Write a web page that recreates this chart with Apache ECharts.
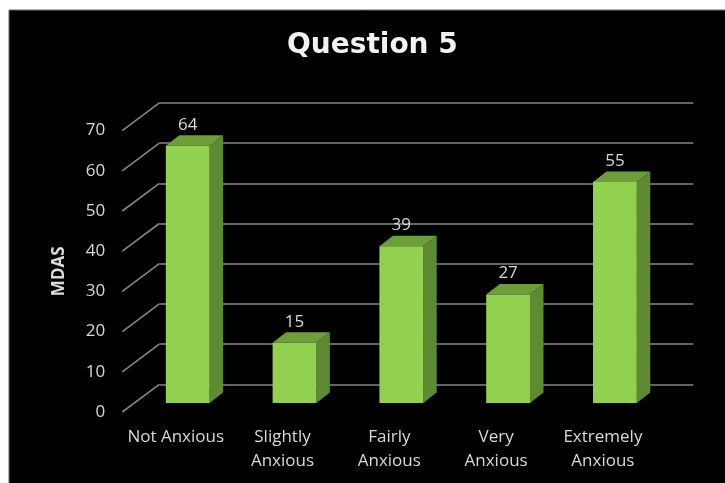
<!DOCTYPE html>
<html>
<head>
<meta charset="utf-8">
<script src="https://cdn.jsdelivr.net/npm/echarts@6/dist/echarts.min.js"></script>
<style>
  html, body { margin: 0; padding: 0; background: #ffffff; }
  #chart { width: 725px; height: 483px; }
</style>
</head>
<body>
<div id="chart"></div>
<script>
const categories = ['Not Anxious', 'Slightly\nAnxious', 'Fairly\nAnxious', 'Very\nAnxious', 'Extremely\nAnxious'];
const values = [64, 15, 39, 27, 55];
const yTicks = [0, 10, 20, 30, 40, 50, 60, 70];
const titleText = 'Question 5';
const yName = 'MDAS';

const FONT = '"Open Sans", "Liberation Sans", sans-serif';
const LABEL_COLOR = '#d9d9d9';
const GRID_COLOR = '#868686';

// three parallel planes: front (labels), bar face, back wall
const planeW = 534, planeH = 281.4;
const front = { left: 122.3, top: 130.6 };
const mid = { left: 134.3, top: 121.6 };
const back = { left: 159.3, top: 102.9 };
const wallDX = back.left - front.left, wallDY = back.top - front.top;
const barDX = 13.5, barDY = -10.5;

const chart = echarts.init(document.getElementById('chart'), null, { renderer: 'canvas' });

const hiddenCat = (gi) => ({
  gridIndex: gi, type: 'category', data: categories, show: false
});
const hiddenVal = (gi, split) => ({
  gridIndex: gi, type: 'value', min: 0, max: 70, interval: 10,
  axisLabel: { show: false }, axisLine: { show: false }, axisTick: { show: false },
  splitLine: { show: split, lineStyle: { color: GRID_COLOR, width: 1.6 } }
});

chart.setOption({
  backgroundColor: '#ffffff',
  animation: false,
  graphic: [{
    type: 'rect', z: -10, silent: true,
    shape: { x: 9, y: 10, width: 725, height: 483 },
    style: { fill: '#000000', stroke: '#6a6a6a', lineWidth: 1 }
  }],
  title: {
    text: titleText,
    left: 282, top: 27,
    textStyle: { color: '#f2f2f2', fontSize: 28, fontWeight: 'bold', fontFamily: '"DejaVu Sans", sans-serif' }
  },
  grid: [
    { left: front.left, top: front.top, width: planeW, height: planeH },
    { left: mid.left, top: mid.top, width: planeW, height: planeH },
    { left: back.left, top: back.top, width: planeW, height: planeH }
  ],
  xAxis: [
    {
      gridIndex: 0, type: 'category', data: categories,
      axisLine: { show: false }, axisTick: { show: false },
      axisLabel: { color: LABEL_COLOR, fontSize: 17, lineHeight: 24, margin: 13, fontFamily: FONT, interval: 0 }
    },
    hiddenCat(1),
    hiddenCat(2)
  ],
  yAxis: [
    {
      gridIndex: 0, type: 'value', min: 0, max: 70, interval: 10,
      axisLine: { show: false }, axisTick: { show: false }, splitLine: { show: false },
      axisLabel: { color: LABEL_COLOR, fontSize: 17, margin: 17, fontFamily: FONT },
      name: yName, nameLocation: 'middle', nameGap: 55, nameRotate: 90,
      nameTextStyle: { color: LABEL_COLOR, fontSize: 17, fontWeight: 'bold', fontFamily: FONT }
    },
    hiddenVal(1, false),
    hiddenVal(2, true)
  ],
  series: [
    {
      // side-wall diagonals joining front tick positions to back wall gridlines
      type: 'custom', xAxisIndex: 0, yAxisIndex: 0, z: 1, silent: true, clip: false,
      data: yTicks.map(v => [0, v]),
      renderItem: function (params, api) {
        const p = api.coord([0, api.value(1)]);
        const x0 = p[0] - api.size([1, 0])[0] / 2;
        return {
          type: 'line',
          shape: { x1: x0, y1: p[1], x2: x0 + wallDX, y2: p[1] + wallDY },
          style: { stroke: GRID_COLOR, lineWidth: 1.6 }
        };
      }
    },
    {
      type: 'custom', xAxisIndex: 1, yAxisIndex: 1, z: 5, silent: true, clip: false,
      data: values.map((v, i) => [i, v]),
      renderItem: function (params, api) {
        const i = api.value(0), v = api.value(1);
        const base = api.coord([i, 0]);
        const topP = api.coord([i, v]);
        const w = api.size([1, 0])[0] * 0.41;
        const xl = base[0] - w / 2, xr = base[0] + w / 2;
        const yb = base[1], yt = topP[1];
        return {
          type: 'group',
          children: [
            {
              type: 'polygon',
              shape: { points: [[xr, yt], [xr + barDX, yt + barDY], [xr + barDX, yb + barDY], [xr, yb]] },
              style: { fill: '#5e8a32' }
            },
            {
              type: 'polygon',
              shape: { points: [[xl, yt], [xl + barDX, yt + barDY], [xr + barDX, yt + barDY], [xr, yt]] },
              style: { fill: '#6e9e3a' }
            },
            {
              type: 'rect',
              shape: { x: xl, y: yt, width: w, height: yb - yt },
              style: { fill: '#92d050' }
            },
            {
              type: 'text',
              style: {
                text: String(v), x: base[0], y: yt - 21,
                align: 'center', verticalAlign: 'middle',
                fill: LABEL_COLOR, fontSize: 17, fontFamily: FONT
              }
            }
          ]
        };
      }
    }
  ]
});
</script>
</body>
</html>
